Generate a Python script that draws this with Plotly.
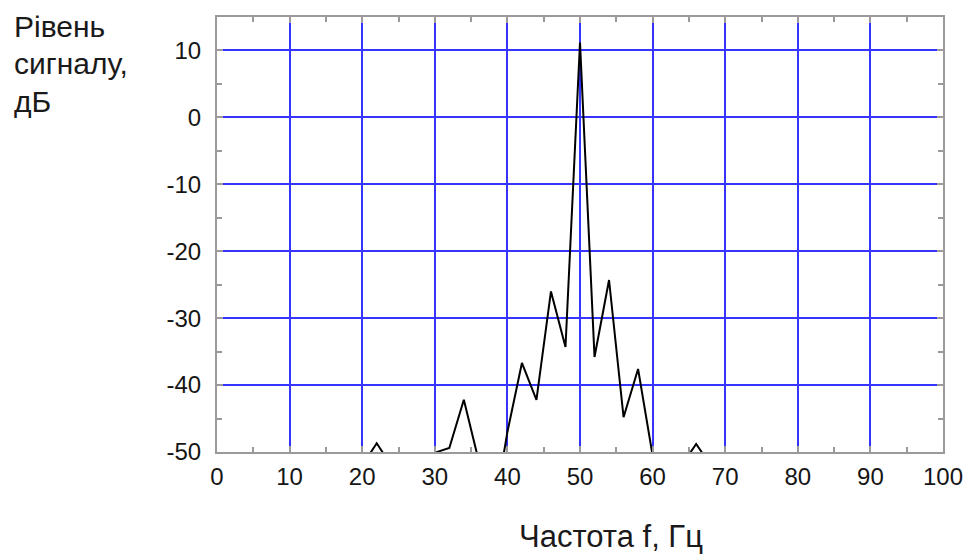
import plotly.graph_objects as go

# Spectrum data (frequency, Hz ; level, dB). Values below -50 dB fall outside the visible range.
freq = [18, 20, 22, 24, 26, 28, 30, 32, 34, 36, 38, 40, 42, 44, 46, 48, 50,
        52, 54, 56, 58, 60, 62, 64, 66, 68, 70]
level = [-60, -52, -48.7, -52, -60, -60, -50.1, -49.4, -42.2, -51, -60, -47, -36.7, -42.2,
         -26.0, -34.3, 11.2, -35.8, -24.3, -44.8, -37.6, -50.5, -60, -52, -48.8, -52, -60]

x_ticks = [0, 10, 20, 30, 40, 50, 60, 70, 80, 90, 100]
x_tick_text = ["0", "10", "20", "30", "40", "50", "60", "70", "80", "90", "100"]
y_ticks = [-50, -40, -30, -20, -10, 0, 10]
y_tick_text = ["-50", "-40", "-30", "-20", "-10", "0", "10"]

x_title = "Частота f, Гц"
y_title_lines = ["Рівень", "сигналу,", "дБ"]

L, R, T, B = 217, 943, 17, 452
W, H = 975, 554
FONT = "Liberation Sans, Arial, sans-serif"


def px(x):
    return (x - L) / (R - L)


def py(y):
    return (B - y) / (B - T)


fig = go.Figure()
fig.add_trace(go.Scatter(x=freq, y=level, mode="lines",
                         line=dict(color="black", width=2), showlegend=False))

def axis_common():
    return dict(
        showline=True, linecolor="#9a9a9a", linewidth=2, mirror="ticks",
        ticks="inside", ticklen=6, tickwidth=2, tickcolor="#9a9a9a",
        showgrid=True, gridcolor="#3535ff", gridwidth=2,
        tickfont=dict(family=FONT, size=24, color="#151515"),
        minor=dict(ticks="inside", ticklen=5, tickwidth=2, tickcolor="#9a9a9a",
                   dtick=5, showgrid=False),
    )

fig.update_xaxes(range=[0, 100], tickvals=x_ticks, ticktext=x_tick_text,
                 zeroline=False, ticklabelstandoff=2, **axis_common())
fig.update_yaxes(range=[-50, 15], tickvals=y_ticks, ticktext=y_tick_text, zeroline=True,
                 zerolinecolor="#3535ff", zerolinewidth=2, ticklabelstandoff=9,
                 **axis_common())

annotations = []
for text, cy in zip(y_title_lines, [26, 64, 102]):
    annotations.append(dict(text=text, xref="paper", yref="paper", x=px(12), y=py(cy),
                            xanchor="left", yanchor="middle", showarrow=False,
                            font=dict(family=FONT, size=30, color="#1a1a1a")))
annotations.append(dict(text=x_title, xref="paper", yref="paper", x=px(611), y=py(536),
                        xanchor="center", yanchor="middle", showarrow=False,
                        font=dict(family=FONT, size=31, color="#1a1a1a")))

fig.update_layout(
    width=W, height=H,
    margin=dict(l=L, r=W - R, t=T, b=H - B),
    paper_bgcolor="white", plot_bgcolor="white",
    annotations=annotations,
)

fig.write_html("out.html")
